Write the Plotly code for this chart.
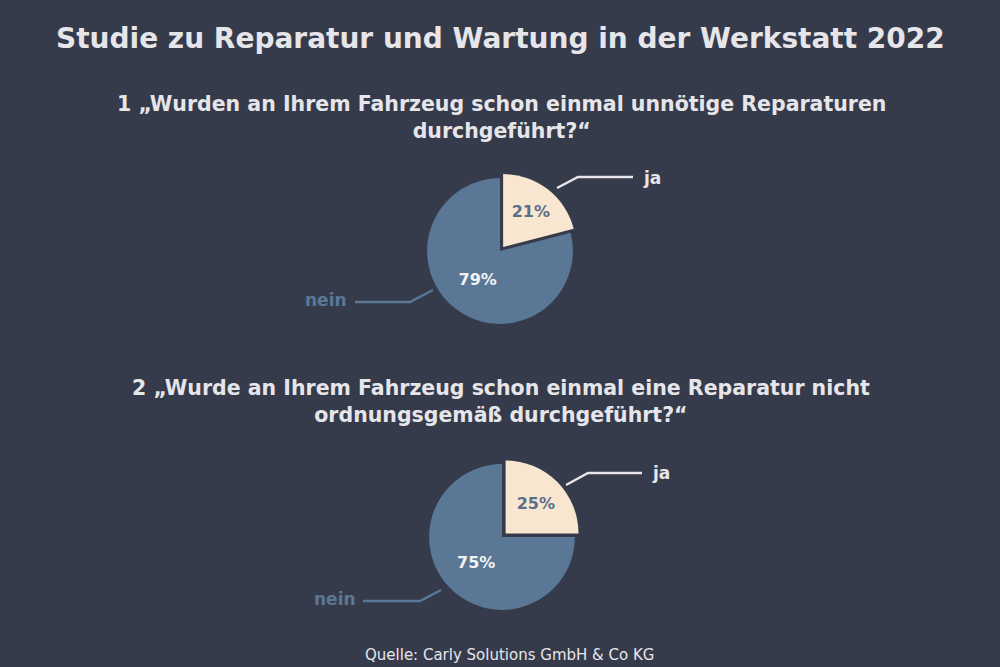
import plotly.graph_objects as go

W, H = 1000, 667
BG = "#363b4b"
BLUE = "#5a7896"
CREAM = "#f8e6d0"
LIGHT = "#e6e6ea"

title = "Studie zu Reparatur und Wartung in der Werkstatt 2022"
q1 = "1 „Wurden an Ihrem Fahrzeug schon einmal unnötige Reparaturen<br>durchgeführt?“"
q2 = "2 „Wurde an Ihrem Fahrzeug schon einmal eine Reparatur nicht<br>ordnungsgemäß durchgeführt?“"
source = "Quelle: Carly Solutions GmbH & Co KG"

labels = ["ja", "nein"]
values1 = [21, 79]
values2 = [25, 75]

FONT = "DejaVu Sans"

def px_x(x):
    return x / W

def px_y(y):
    return 1 - y / H

def domain(cx, cy, r):
    return dict(x=[px_x(cx - r), px_x(cx + r)], y=[px_y(cy + r), px_y(cy - r)])

fig = go.Figure()
for vals, (cx, cy) in [(values1, (500, 251)), (values2, (502, 537))]:
    fig.add_trace(go.Pie(
        labels=labels, values=vals, sort=False, direction="clockwise", rotation=0,
        pull=[0.07, 0], domain=domain(cx, cy, 78),
        marker=dict(colors=[CREAM, BLUE], line=dict(width=0)),
        texttemplate="%{value}%", textposition="inside", insidetextorientation="horizontal",
        textfont=dict(family=FONT, size=16, color=["#5a6f88", "#f2f2f2"], weight="bold"),
        hoverinfo="label+percent", showlegend=False,
    ))

ann = []
def text(x, y, s, size, color=LIGHT, weight="bold", xanchor="center"):
    ann.append(dict(x=px_x(x), y=px_y(y), xref="paper", yref="paper", text=s, showarrow=False,
                    xanchor=xanchor, yanchor="middle",
                    font=dict(family=FONT, size=size, color=color, weight=weight)))

text(500, 38, title, 28)
text(501, 118, q1, 20.5)
text(501, 401, q2, 20.5)
text(509, 655, source, 15, weight="normal")
text(641, 178, "ja", 17, xanchor="left")
text(303, 300, "nein", 17, color=BLUE, xanchor="left")
text(650, 473, "ja", 17, xanchor="left")
text(312, 599, "nein", 17, color=BLUE, xanchor="left")

def line(pts, color):
    path = "M " + " L ".join(f"{px_x(x)},{px_y(y)}" for x, y in pts)
    return dict(type="path", path=path, xref="paper", yref="paper",
                line=dict(color=color, width=2.5))

shapes = [
    line([(557, 188), (578, 177), (633, 177)], LIGHT),
    line([(355, 302), (410, 302), (433, 290)], BLUE),
    line([(566, 485), (588, 473), (642, 473)], LIGHT),
    line([(363, 601), (420, 601), (441, 590)], BLUE),
]

fig.update_layout(width=W, height=H, margin=dict(l=0, r=0, t=0, b=0),
                  paper_bgcolor=BG, plot_bgcolor=BG, annotations=ann, shapes=shapes)
fig.write_html("out.html", config={"displayModeBar": False},
               post_script="document.body.style.margin='0';document.body.style.background='" + BG + "';")
